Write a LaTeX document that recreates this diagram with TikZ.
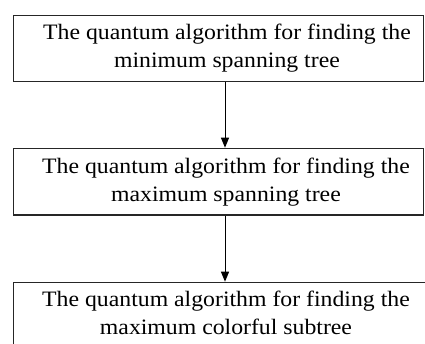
\documentclass[tikz,border=0pt]{standalone}
\usepackage{fontspec}
\setmainfont[FakeStretch=1.08]{Liberation Serif}
\usetikzlibrary{arrows.meta}
\begin{document}
\begin{tikzpicture}[x=1pt,y=-1pt,
  box/.style={draw=black!85,line width=1.4pt,rectangle,inner sep=0pt,anchor=north west},
  lbl/.style={align=center,inner sep=0pt,anchor=base,font=\fontsize{22pt}{28pt}\selectfont},
  arr/.style={draw=black,line width=1pt,-{Triangle[length=10pt,width=8pt]}}]
\useasboundingbox (0,0) rectangle (425,343);
\clip (0,0) rectangle (425,343);
\node[box,minimum width=410pt,minimum height=66pt] (b1) at (13,14.7) {};
\node[box,minimum width=410pt,minimum height=66.6pt] (b2) at (13,147.7) {};
\node[box,minimum width=430pt,minimum height=80pt] (b3) at (13,281.7) {};
\node[lbl] (t1) at (227,67.3) {The quantum algorithm for finding the\\minimum spanning tree};
\node[lbl] (t2) at (226,201) {The quantum algorithm for finding the\\maximum spanning tree};
\node[lbl] (t3) at (226,334.3) {The quantum algorithm for finding the\\maximum colorful subtree};
\coordinate (ax) at (225,0);
\draw[arr] (b1.south -| ax) -- (b2.north -| ax);
\draw[arr] (b2.south -| ax) -- (b3.north -| ax);
\end{tikzpicture}
\end{document}
